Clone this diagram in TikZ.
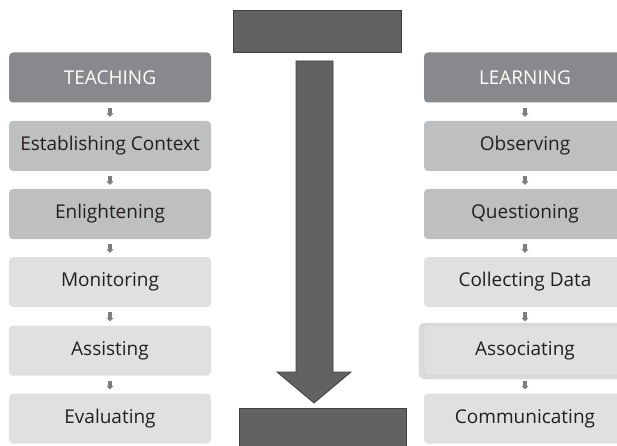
\documentclass[tikz,border=0pt]{standalone}
\usepackage{fontspec}
\setmainfont{Open Sans}
\usetikzlibrary{arrows.meta}
\definecolor{headgray}{HTML}{88898C}
\definecolor{midgray}{HTML}{BEBFC1}
\definecolor{lightgray}{HTML}{E0E0E2}
\definecolor{framegray}{HTML}{DADADC}
\definecolor{frameline}{HTML}{CDCDCF}
\definecolor{bargray}{HTML}{626262}
\definecolor{barline}{HTML}{404040}
\definecolor{tipgray}{HTML}{7E7E81}
\definecolor{textdark}{HTML}{231F20}
\begin{document}
\begin{tikzpicture}[x=1pt,y=-1pt,
  stagebox/.style={rounded corners=4pt, minimum width=202pt, minimum height=50pt,
    inner sep=0pt, font=\fontsize{19}{22}\selectfont, text=textdark},
  headbox/.style={stagebox, fill=headgray, text=white},
  midbox/.style={stagebox, fill=midgray},
  lightbox/.style={stagebox, fill=lightgray},
  flowtip/.style={draw=tipgray, line width=3.5pt, shorten <=5pt, shorten >=4pt,
    -{Triangle[width=7pt,length=3.5pt]}},
  bar/.style={fill=bargray, draw=barline, line width=0.8pt}]
\useasboundingbox (0,0) rectangle (617,446);
\clip (0,0) rectangle (617,446);

% teaching column
\node[headbox]  (t1) at (110,77.5)  {TEACHING};
\node[midbox]   (t2) at (110,146)   {Establishing Context};
\node[midbox]   (t3) at (110,214)   {Enlightening};
\node[lightbox] (t4) at (110,282)   {Monitoring};
\node[lightbox] (t5) at (110,350.5) {Assisting};
\node[lightbox] (t6) at (110,418.5) {Evaluating};

% learning column
\node[headbox]  (l1) at (525,77.5)  {LEARNING};
\node[midbox]   (l2) at (525,146)   {Observing};
\node[midbox]   (l3) at (525,214)   {Questioning};
\node[lightbox] (l4) at (525,282)   {Collecting Data};
\fill[framegray, draw=frameline, line width=0.4pt, rounded corners=6pt] (419,323) rectangle (633,379);
\node[lightbox, draw=frameline, line width=0.4pt] (l5) at (525,350.5) {Associating};
\node[lightbox] (l6) at (525,418.5) {Communicating};

% small arrows between the stages
\foreach \a/\b in {t1/t2,t2/t3,t3/t4,t4/t5,t5/t6,l1/l2,l2/l3,l3/l4,l4/l5,l5/l6}
  \draw[flowtip] (\a.south) -- (\b.north);

% central bars and the big arrow
\node[bar, minimum width=168pt, minimum height=42pt, inner sep=0pt] (top) at (317,31) {};
\node[bar, minimum width=167pt, minimum height=46pt, inner sep=0pt] (bottom) at (322.5,431) {};
\draw[bar, line join=miter]
  (296,61) -- (333,61) -- (333,372) -- (351,372) -- (314,403) -- (277,372) -- (296,372) -- cycle;
\end{tikzpicture}
\end{document}
